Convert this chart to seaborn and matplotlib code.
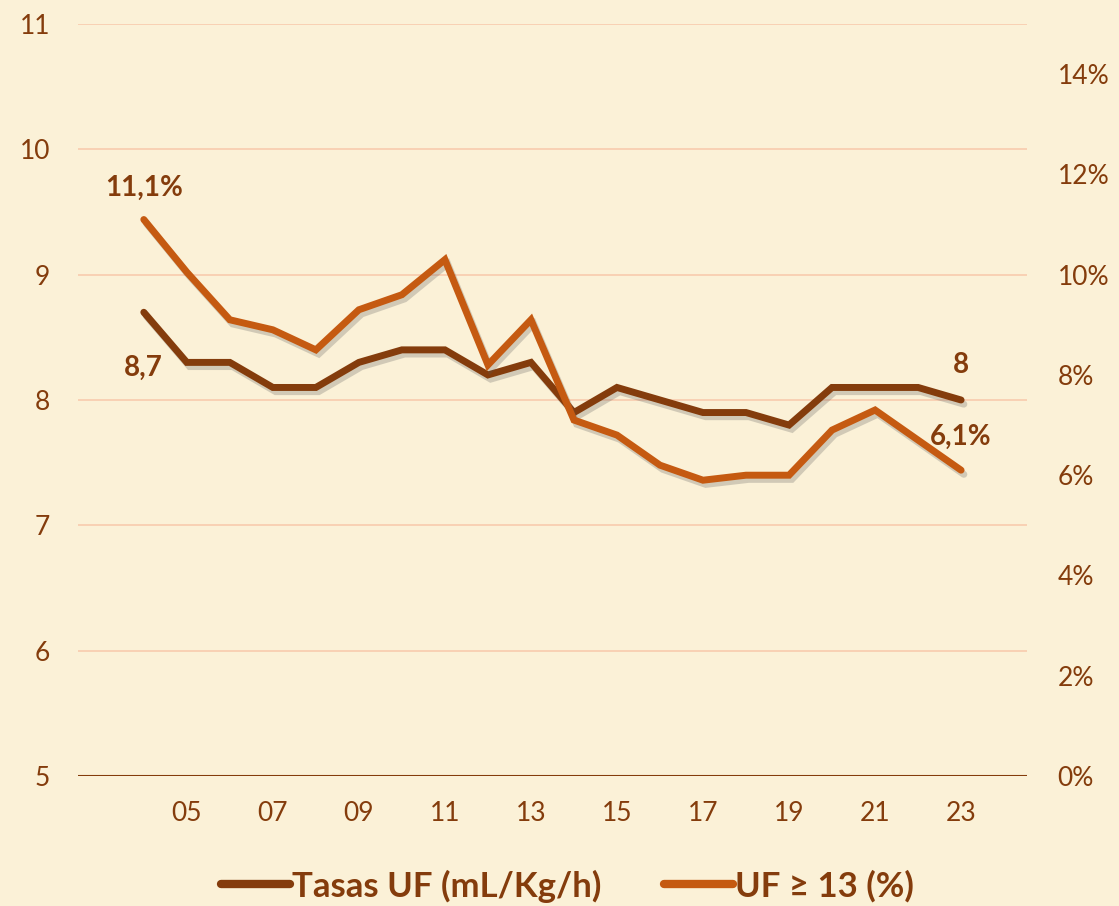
import numpy as np
import pandas as pd
import seaborn as sns
import matplotlib.pyplot as plt
import matplotlib.patheffects as pe
from matplotlib.lines import Line2D

years = [2004, 2005, 2006, 2007, 2008, 2009, 2010, 2011, 2012, 2013,
         2014, 2015, 2016, 2017, 2018, 2019, 2020, 2021, 2022, 2023]
tasas_uf = [8.7, 8.3, 8.3, 8.1, 8.1, 8.3, 8.4, 8.4, 8.2, 8.3,
            7.9, 8.1, 8.0, 7.9, 7.9, 7.8, 8.1, 8.1, 8.1, 8.0]
uf_13 = [11.1, 10.05, 9.1, 8.9, 8.5, 9.3, 9.6, 10.3, 8.2, 9.1,
         7.1, 6.8, 6.2, 5.9, 6.0, 6.0, 6.9, 7.3, 6.7, 6.1]
tick_years = [2005, 2007, 2009, 2011, 2013, 2015, 2017, 2019, 2021, 2023]
tick_labels = ["05", "07", "09", "11", "13", "15", "17", "19", "21", "23"]

df = pd.DataFrame({"year": years, "tasas": tasas_uf, "uf13": uf_13})

sns.set_style("white")
plt.rcParams['font.family'] = ['Lato', 'DejaVu Sans']

bg = "#FBF1D7"
dark = "#843C0C"
orange = "#C55A11"
grid = "#F8CBAD"

fig = plt.figure(figsize=(11.19, 9.06), dpi=100, facecolor=bg)
ax = fig.add_axes([0.0697, 0.1435, 0.848, 0.83])
ax.set_facecolor(bg)
ax2 = ax.twinx()

sns.lineplot(data=df, x="year", y="tasas", ax=ax, color=dark, lw=5,
             solid_capstyle="round", solid_joinstyle="miter", zorder=3)
sns.lineplot(data=df, x="year", y="uf13", ax=ax2, color=orange, lw=5,
             solid_capstyle="round", solid_joinstyle="miter", zorder=3)
for l in ax.lines + ax2.lines:
    l.set_path_effects([pe.SimpleLineShadow(offset=(2, -3), alpha=0.25, shadow_color="#555555"), pe.Normal()])

ax.set_xlim(2002.47, 2024.53)
ax.set_ylim(5, 11)
ax2.set_ylim(0, 15)
ax.set_yticks([5, 6, 7, 8, 9, 10, 11])
ax2.set_yticks([0, 2, 4, 6, 8, 10, 12, 14])
ax2.set_yticklabels([f"{v}%" for v in [0, 2, 4, 6, 8, 10, 12, 14]])
ax.set_xticks(tick_years)
ax.set_xticklabels(tick_labels)

for y in [6, 7, 8, 9, 10, 11]:
    ax.axhline(y, color=grid, lw=1.2, zorder=0)
ax.axhline(5, color=dark, lw=1.5, zorder=2)

for a in (ax, ax2):
    for s in a.spines.values():
        s.set_visible(False)
    a.tick_params(length=0, labelsize=19, colors=dark)
    a.set_xlabel("")
    a.set_ylabel("")
ax.tick_params(axis="y", pad=20)
ax2.tick_params(axis="y", pad=22)
ax.tick_params(axis="x", pad=18)

ann = dict(ha="center", va="center", fontsize=20, fontweight="bold", color=dark,
           textcoords="offset points")
ax.annotate("8,7", (2004, 8.7), xytext=(0, -40), **ann)
ax.annotate("8", (2023, 8.0), xytext=(0, 25), **ann)
ax2.annotate("11,1%", (2004, 11.1), xytext=(0, 23), **ann)
ax2.annotate("6,1%", (2023, 6.1), xytext=(0, 24), **ann)

handles = [Line2D([0], [0], color=dark, lw=6, solid_capstyle="round"),
           Line2D([0], [0], color=orange, lw=6, solid_capstyle="round")]
leg = fig.legend(handles, ["Tasas UF (mL/Kg/h)", "UF ≥ 13 (%)"], loc="center",
                 bbox_to_anchor=(0.507, 0.022), ncol=2, frameon=False,
                 prop={"size": 25, "weight": "bold"}, handlelength=2.0,
                 handletextpad=0.05, columnspacing=1.8)
for t in leg.get_texts():
    t.set_color(dark)

fig.savefig("out.png", dpi=100, facecolor=bg)
